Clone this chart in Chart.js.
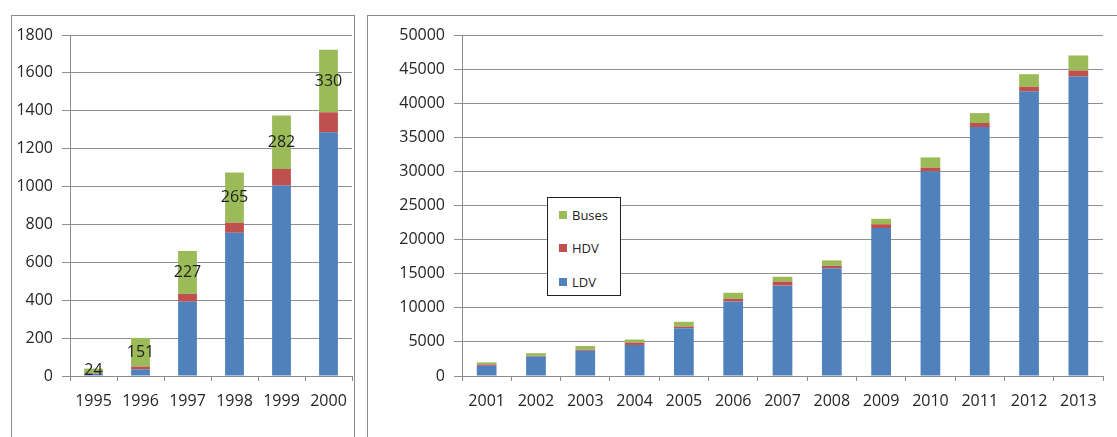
<!DOCTYPE html>
<html>
<head>
<meta charset="utf-8">
<script src="https://cdn.jsdelivr.net/npm/chart.js@4.4.1/dist/chart.umd.min.js"></script>
<style>
  html,body{margin:0;padding:0;background:#fff;width:1117px;height:437px;overflow:hidden;font-family:"Open Sans",sans-serif}
  .panel{position:absolute;border:1px solid #8a8a8a;border-bottom:none;box-sizing:border-box}
  #p1{left:11px;top:15px;width:344px;height:440px}
  #p2{left:367px;top:15px;width:770px;height:440px;border-right:none}
  canvas{position:absolute}
  #c1{left:0;top:0}
  #c2{left:362px;top:0}
  #legend{position:absolute;left:547px;top:197px;width:74px;height:99px;border:1px solid #222;background:#fff;box-sizing:border-box;font-size:13px;color:#222}
  #legend div{position:absolute;left:11px;display:flex;align-items:center;gap:5px;line-height:16px}
  #legend span{width:8px;height:8px;display:inline-block}
</style>
</head>
<body>
<div class="panel" id="p1"></div>
<div class="panel" id="p2"></div>
<canvas id="c1" width="360" height="437"></canvas>
<canvas id="c2" width="755" height="437"></canvas>
<div id="legend"></div>
<script>
const COL_LDV='#4f81bd',COL_HDV='#c0504d',COL_BUS='#9bbb59';

// left chart: 1995-2000
const years1=['1995','1996','1997','1998','1999','2000'];
const ldv1=[12,35,392,756,1005,1286];
const hdv1=[3,15,41,53,88,106];
const bus1=[24,151,227,265,282,330];

// right chart: 2001-2013
const years2=['2001','2002','2003','2004','2005','2006','2007','2008','2009','2010','2011','2012','2013'];
const ldv2=[1500,2850,3700,4550,7000,10900,13250,15800,21700,30000,36500,41700,43900];
const hdv2=[200,100,150,350,250,400,600,350,550,550,600,700,900];
const bus2=[300,400,550,450,700,900,700,800,800,1500,1450,1850,2200];

Chart.defaults.font.family='"Open Sans", sans-serif';
Chart.defaults.color='#262626';

// buses value written in middle of green segment
const busLabels={
  id:'busLabels',
  afterDatasetsDraw(chart,args,opts){
    if(!opts.on)return;
    const ctx=chart.ctx,meta=chart.getDatasetMeta(2),d=chart.data.datasets[2].data;
    ctx.save();
    ctx.font='16px "Open Sans", sans-serif';ctx.fillStyle='#1e1e1e';
    ctx.textAlign='center';ctx.textBaseline='middle';
    meta.data.forEach((b,i)=>{ctx.fillText(d[i],b.x,(b.y+b.base)/2);});
    ctx.restore();
  }
};

function mk(id,labels,l,h,b,max,step,yw,padR,labelsOn){
  return new Chart(document.getElementById(id),{
    type:'bar',
    data:{labels,datasets:[
      {label:'LDV',data:l,backgroundColor:COL_LDV},
      {label:'HDV',data:h,backgroundColor:COL_HDV},
      {label:'Buses',data:b,backgroundColor:COL_BUS},
    ]},
    plugins:[busLabels],
    options:{
      responsive:false,animation:false,
      layout:{padding:{top:35,right:padR,left:0,bottom:0}},
      datasets:{bar:{categoryPercentage:1,barPercentage:0.4}},
      plugins:{legend:{display:false},tooltip:{enabled:false},busLabels:{on:labelsOn}},
      scales:{
        x:{stacked:true,
          grid:{offset:true,drawOnChartArea:false,color:'#8a8a8a',tickLength:5},
          border:{color:'#8a8a8a'},
          ticks:{font:{size:16},padding:11,maxRotation:0},
          afterFit:s=>{s.height=61;}},
        y:{stacked:true,min:0,max,
          grid:{color:'#8f8f8f',tickLength:8},
          border:{color:'#8a8a8a'},
          ticks:{stepSize:step,font:{size:16},padding:9,callback:v=>String(v)},
          afterFit:s=>{s.width=yw;}}
      }
    }
  });
}
mk('c1',years1,ldv1,hdv1,bus1,1800,200,70,8,true);
mk('c2',years2,ldv2,hdv2,bus2,50000,5000,100,14,false);

document.getElementById('legend').innerHTML=[
  {l:'Buses',c:COL_BUS,y:9},
  {l:'HDV',c:COL_HDV,y:42},
  {l:'LDV',c:COL_LDV,y:76},
].map(x=>`<div style="top:${x.y}px"><span style="background:${x.c}"></span>${x.l}</div>`).join('');
</script>
</body>
</html>
